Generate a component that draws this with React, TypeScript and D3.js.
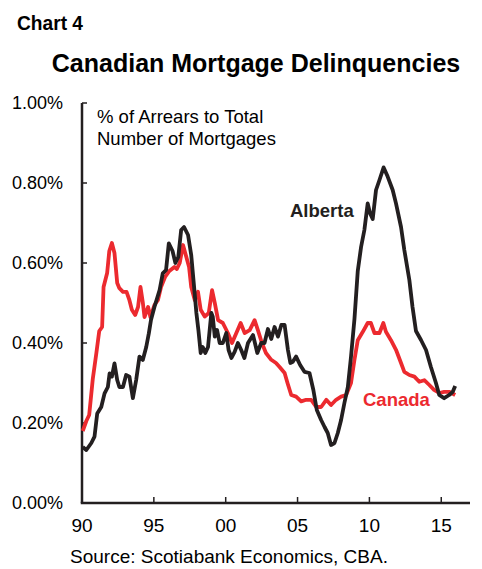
import React from "react";
import * as d3 from "d3";

// decimal years / % of mortgages in arrears
const canadaYears = [
  1990.05, 1990.3, 1990.5, 1990.75, 1991.0, 1991.2, 1991.4, 1991.5, 1991.75, 1991.9,
  1992.08, 1992.26, 1992.45, 1992.6, 1992.85, 1993.1, 1993.3, 1993.47, 1993.7, 1993.9,
  1994.07, 1994.23, 1994.35, 1994.6, 1994.76, 1995.04, 1995.28, 1995.5, 1995.78, 1996.08,
  1996.43, 1996.6, 1996.8, 1997.03, 1997.26, 1997.45, 1997.6, 1997.85, 1998.07, 1998.26,
  1998.54, 1998.82, 1999.05, 1999.24, 1999.47, 1999.8, 2000.15, 2000.44, 2000.74, 2001.04,
  2001.32, 2001.67, 2002.01, 2002.24, 2002.52, 2002.8, 2003.17, 2003.5, 2003.75, 2004.1,
  2004.3, 2004.56, 2004.9, 2005.25, 2005.6, 2005.95, 2006.3, 2006.64, 2007.0, 2007.33,
  2007.68, 2008.03, 2008.38, 2008.72, 2008.96, 2009.19, 2009.54, 2009.88, 2010.1, 2010.35,
  2010.7, 2010.97, 2011.15, 2011.5, 2011.85, 2012.2, 2012.43, 2012.78, 2013.13, 2013.47,
  2013.82, 2014.17, 2014.5, 2014.86, 2015.2, 2015.55, 2015.97,
];
const canadaValues = [
  0.18, 0.205, 0.22, 0.31, 0.375, 0.43, 0.44, 0.54, 0.575, 0.63,
  0.65, 0.625, 0.55, 0.537, 0.528, 0.528, 0.507, 0.483, 0.47, 0.49,
  0.54, 0.502, 0.465, 0.49, 0.465, 0.495, 0.507, 0.54, 0.565, 0.58,
  0.59, 0.585, 0.6, 0.645, 0.615, 0.59, 0.54, 0.507, 0.528, 0.483,
  0.466, 0.475, 0.532, 0.5, 0.457, 0.45, 0.425, 0.4, 0.425, 0.45,
  0.425, 0.432, 0.457, 0.432, 0.4, 0.375, 0.358, 0.35, 0.34, 0.325,
  0.3, 0.27, 0.266, 0.254, 0.258, 0.258, 0.24, 0.24, 0.258, 0.245,
  0.258, 0.266, 0.27, 0.3, 0.358, 0.407, 0.428, 0.45, 0.45, 0.425,
  0.425, 0.45, 0.428, 0.407, 0.383, 0.35, 0.328, 0.32, 0.316, 0.303,
  0.307, 0.295, 0.283, 0.275, 0.278, 0.278, 0.27,
];

const albertaYears = [
  1990.05, 1990.3, 1990.65, 1990.87, 1991.06, 1991.34, 1991.57, 1991.8, 1991.92, 1992.08,
  1992.26, 1992.45, 1992.6, 1992.85, 1993.07, 1993.3, 1993.54, 1993.77, 1994.0, 1994.23,
  1994.47, 1994.65, 1994.8, 1995.04, 1995.4, 1995.62, 1995.85, 1996.04, 1996.3, 1996.5,
  1996.7, 1996.9, 1997.1, 1997.38, 1997.6, 1997.8, 1997.96, 1998.1, 1998.26, 1998.4,
  1998.58, 1998.77, 1999.0, 1999.1, 1999.24, 1999.4, 1999.58, 1999.8, 2000.04, 2000.2,
  2000.4, 2000.62, 2000.85, 2001.08, 2001.3, 2001.55, 2001.9, 2002.2, 2002.47, 2002.7,
  2002.94, 2003.17, 2003.4, 2003.64, 2003.87, 2004.1, 2004.33, 2004.5, 2004.67, 2004.9,
  2005.18, 2005.48, 2005.83, 2006.1, 2006.34, 2006.64, 2006.88, 2007.1, 2007.33, 2007.57,
  2007.8, 2008.03, 2008.26, 2008.5, 2008.72, 2008.96, 2009.19, 2009.42, 2009.65, 2009.88,
  2010.05, 2010.23, 2010.46, 2010.7, 2010.99, 2011.27, 2011.62, 2011.85, 2012.2, 2012.43,
  2012.78, 2013.0, 2013.24, 2013.59, 2013.94, 2014.28, 2014.63, 2014.86, 2015.2, 2015.55,
  2015.8, 2015.97,
];
const albertaValues = [
  0.14, 0.1325, 0.15, 0.166, 0.224, 0.24, 0.274, 0.29, 0.324, 0.316,
  0.349, 0.3075, 0.29, 0.29, 0.32, 0.316, 0.262, 0.3075, 0.366, 0.3575,
  0.39, 0.424, 0.4575, 0.49, 0.5325, 0.574, 0.5825, 0.649, 0.63, 0.6,
  0.615, 0.6825, 0.69, 0.67, 0.62, 0.54, 0.475, 0.4325, 0.375, 0.39,
  0.375, 0.39, 0.475, 0.466, 0.416, 0.4325, 0.4, 0.4, 0.425, 0.3825,
  0.3625, 0.378, 0.4, 0.3825, 0.3625, 0.4, 0.42, 0.375, 0.4, 0.4,
  0.435, 0.41, 0.44, 0.416, 0.445, 0.445, 0.3825, 0.35, 0.353, 0.366,
  0.345, 0.328, 0.325, 0.2825, 0.2325, 0.2075, 0.19, 0.175, 0.145, 0.15,
  0.175, 0.2075, 0.25, 0.29, 0.366, 0.46, 0.58, 0.64, 0.6825, 0.749,
  0.724, 0.71, 0.7825, 0.8075, 0.839, 0.816, 0.7825, 0.749, 0.69, 0.6325,
  0.5575, 0.49, 0.43, 0.4075, 0.3825, 0.34, 0.3, 0.27, 0.262, 0.27,
  0.278, 0.2925,
];

const yTicks = [0, 0.2, 0.4, 0.6, 0.8, 1.0];
const xTicks = [1990, 1995, 2000, 2005, 2010, 2015];
const xTickLabels = ["90", "95", "00", "05", "10", "15"];

const RED = "#ec2a2f";
const BLACK = "#231f20";
const FONT = "Liberation Sans, Arial, sans-serif";

export default function App() {
  const x = d3.scaleLinear().domain([1990, 2017]).range([82, 470]);
  const y = d3.scaleLinear().domain([0, 1]).range([503, 103]);

  const line = d3
    .line<[number, number]>()
    .x((d) => x(d[0]))
    .y((d) => y(d[1]));

  const canada = canadaYears.map((yr, i) => [yr, canadaValues[i]] as [number, number]);
  const alberta = albertaYears.map((yr, i) => [yr, albertaValues[i]] as [number, number]);

  return (
    <svg
      width={482}
      height={569}
      style={{ position: "absolute", left: 0, top: 0, background: "#fff" }}
      fontFamily={FONT}
    >
      <text
        x={17}
        y={30}
        fontFamily="Liberation Sans Narrow, Arial Narrow, Liberation Sans, sans-serif"
        fontWeight="bold"
        fontSize={21}
        textLength={66}
        lengthAdjust="spacingAndGlyphs"
        fill="#000"
      >
        Chart 4
      </text>
      <text x={256} y={72} textAnchor="middle" fontWeight="bold" fontSize={25} fill="#000">
        Canadian Mortgage Delinquencies
      </text>

      <text x={97} y={123} fontSize={18.5} fill="#000">
        % of Arrears to Total
      </text>
      <text x={97} y={145} fontSize={18.5} fill="#000">
        Number of Mortgages
      </text>

      {/* y axis */}
      <line x1={x(1990)} x2={x(1990)} y1={y(1)} y2={y(0)} stroke={BLACK} strokeWidth={2.5} />
      {yTicks.map((t) => (
        <g key={t}>
          <line x1={x(1990)} x2={x(1990) + 5} y1={y(t)} y2={y(t)} stroke={BLACK} strokeWidth={1.5} />
          <text x={63} y={y(t)} dy="0.35em" textAnchor="end" fontSize={18} fill="#000">
            {d3.format(".2f")(t) + "%"}
          </text>
        </g>
      ))}

      {/* x axis */}
      <line x1={x(1990) - 1.25} x2={x(2017)} y1={y(0)} y2={y(0)} stroke={BLACK} strokeWidth={2.5} />
      {xTicks.map((t, i) => (
        <g key={t}>
          <line x1={x(t)} x2={x(t)} y1={y(0)} y2={y(0) - 6} stroke={BLACK} strokeWidth={1.5} />
          <text x={x(t)} y={532} textAnchor="middle" fontSize={19} fill="#000">
            {xTickLabels[i]}
          </text>
        </g>
      ))}

      <path d={line(canada) || ""} fill="none" stroke={RED} strokeWidth={3.8} strokeLinejoin="round" />
      <path d={line(alberta) || ""} fill="none" stroke={BLACK} strokeWidth={3.8} strokeLinejoin="round" />

      <text x={290} y={217} fontWeight="bold" fontSize={18.5} fill={BLACK}>
        Alberta
      </text>
      <text x={363} y={406} fontWeight="bold" fontSize={18.5} fill={RED}>
        Canada
      </text>

      <text x={229} y={563} textAnchor="middle" fontSize={19} fill="#000">
        Source: Scotiabank Economics, CBA.
      </text>
    </svg>
  );
}
